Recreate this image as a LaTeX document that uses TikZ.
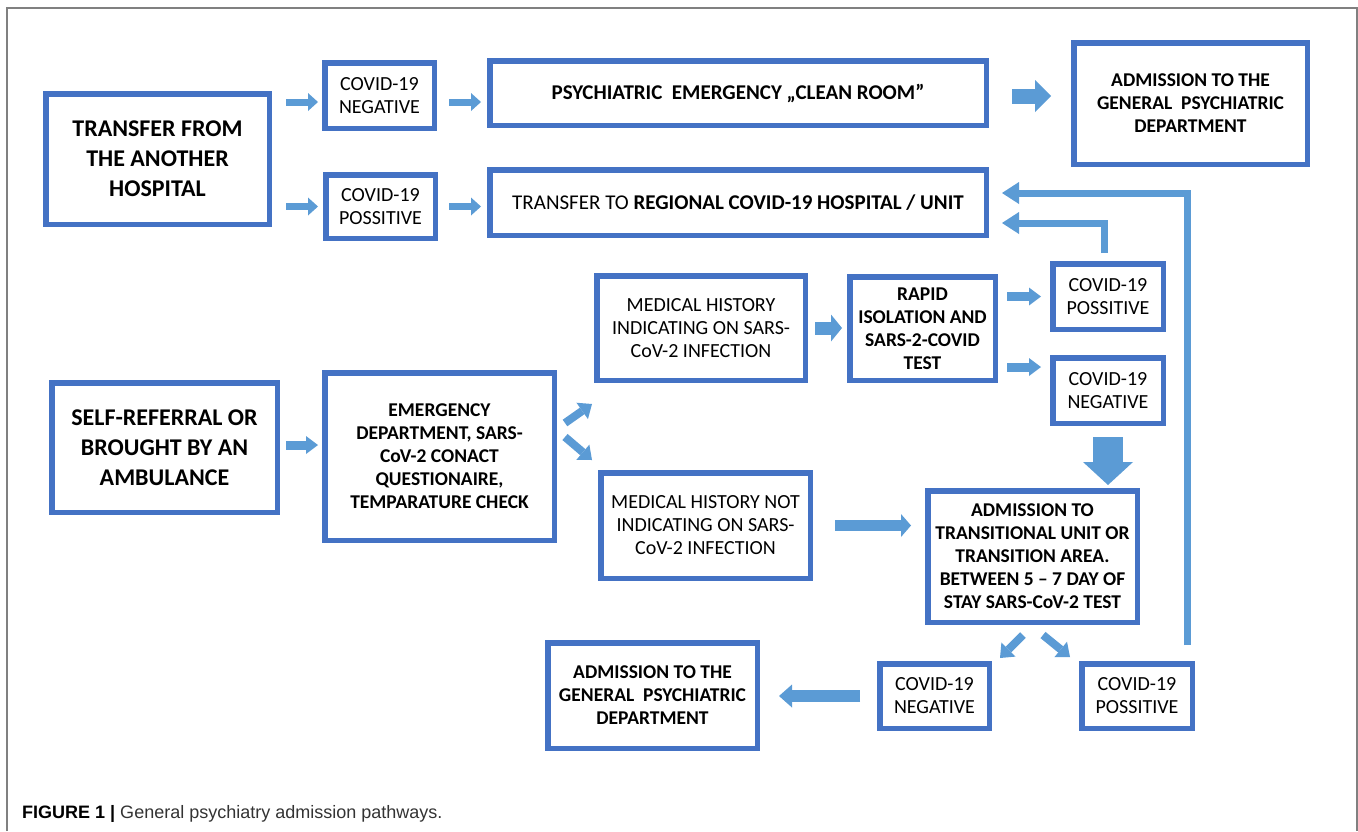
\documentclass[tikz,border=0pt]{standalone}
\usepackage{fontspec}
\setmainfont{Carlito}
\newfontfamily\capfont{Liberation Sans}
\usetikzlibrary{arrows.meta}
\definecolor{boxblue}{HTML}{4472C4}
\definecolor{arrowblue}{HTML}{5B9BD5}
\definecolor{framegray}{HTML}{808080}
\definecolor{captext}{HTML}{333333}

\begin{document}
\begin{tikzpicture}[x=1pt,y=-1pt,
  box/.style={draw=boxblue, line width=5.5pt, fill=white, align=center, inner sep=2pt, font=\fontsize{20}{23}\selectfont},
  bold box/.style={box, font=\fontsize{19.5}{23}\selectfont\bfseries},
  big box/.style={box, font=\fontsize{24}{30}\selectfont\bfseries},
  flow/.style n args={3}{draw, color=arrowblue, line width=#1, -{Triangle[width=#2, length=#3, line width=0pt, fill=arrowblue]}}]

  \useasboundingbox (0,0) rectangle (1358,831);
  \draw[framegray, line width=1.2pt] (7,831) -- (7,8) -- (1357,8) -- (1357,831);

  % transfer branch
  \node[big box, minimum width=223.5pt, minimum height=130.5pt] (transfer) at (157.5,159) {TRANSFER FROM\\THE ANOTHER\\HOSPITAL};
  \node[box, minimum width=109.5pt, minimum height=65.5pt] (negtop) at (379.5,95.5) {COVID-19\\NEGATIVE};
  \node[box, minimum width=109.5pt, minimum height=63.5pt] (postop) at (380.5,206.5) {COVID-19\\POSSITIVE};
  \node[box, minimum width=496.5pt, minimum height=64.5pt, font=\fontsize{21}{24}\selectfont\bfseries] (cleanroom) at (738,93) {PSYCHIATRIC\ \ EMERGENCY\ „CLEAN ROOM”};
  \node[box, minimum width=496.5pt, minimum height=65.5pt, font=\fontsize{21}{24}\selectfont] (regional) at (738,202.5) {TRANSFER TO \textbf{REGIONAL COVID-19 HOSPITAL / UNIT}};
  \node[bold box, minimum width=233.5pt, minimum height=121.5pt] (admittop) at (1190.5,103.5) {ADMISSION TO THE\\GENERAL\ \ PSYCHIATRIC\\DEPARTMENT};

  % self-referral branch
  \node[big box, minimum width=225.5pt, minimum height=129.5pt] (selfref) at (164.5,447.5) {SELF-REFERRAL OR\\BROUGHT BY AN\\AMBULANCE};
  \node[bold box, minimum width=229.5pt, minimum height=167.5pt] (emergency) at (439.5,456.5) {EMERGENCY\\DEPARTMENT, SARS-\\CoV-2 CONACT\\QUESTIONAIRE,\\TEMPARATURE CHECK};
  \node[box, minimum width=208.5pt, minimum height=104.5pt] (histyes) at (701,328) {MEDICAL HISTORY\\INDICATING ON SARS-\\CoV-2 INFECTION};
  \node[bold box, minimum width=145.5pt, minimum height=103.5pt] (rapid) at (922.5,328.5) {RAPID\\ISOLATION AND\\SARS-2-COVID\\TEST};
  \node[box, minimum width=110.5pt, minimum height=65.5pt] (posmid) at (1108,296.5) {COVID-19\\POSSITIVE};
  \node[box, minimum width=110.5pt, minimum height=65.5pt] (negmid) at (1108,390.5) {COVID-19\\NEGATIVE};
  \node[box, minimum width=209.5pt, minimum height=105.5pt] (histno) at (705.5,525.5) {MEDICAL HISTORY NOT\\INDICATING ON SARS-\\CoV-2 INFECTION};
  \node[bold box, minimum width=209.5pt, minimum height=131.5pt] (transition) at (1032.5,556.5) {ADMISSION TO\\TRANSITIONAL UNIT OR\\TRANSITION AREA.\\BETWEEN 5 – 7 DAY OF\\STAY SARS-CoV-2 TEST};
  \node[box, minimum width=109.5pt, minimum height=64.5pt] (negbot) at (934.5,696) {COVID-19\\NEGATIVE};
  \node[box, minimum width=110.5pt, minimum height=64.5pt] (posbot) at (1137,696) {COVID-19\\POSSITIVE};
  \node[bold box, minimum width=209.5pt, minimum height=105.5pt] (admitbot) at (652.5,695.5) {ADMISSION TO THE\\GENERAL\ \ PSYCHIATRIC\\DEPARTMENT};

  \node[anchor=base west, inner sep=0pt, text=captext, font=\capfont\fontsize{18}{20}\selectfont] (caption) at (22,818) {\textbf{\color{black}FIGURE 1 |} General psychiatry admission pathways.};

  \coordinate (negtopin) at ([yshift=-6.5pt]negtop.west);
  \coordinate (negtopout) at ([yshift=-6.5pt]negtop.east);
  \coordinate (cleanout) at ([yshift=-3pt]cleanroom.east);
  \coordinate (selfout) at ([yshift=2.5pt]selfref.east);
  \coordinate (negmidin) at ([yshift=23.5pt]negmid.west);

  \path[every edge/.style={flow={7pt}{18pt}{10pt}}]
       (negtopin -| transfer.east) edge[shorten <=14pt, shorten >=4pt] (negtopin)
       (postop.west -| transfer.east) edge[shorten <=14pt, shorten >=5pt] (postop.west)
       (negtopout) edge[shorten <=12pt, shorten >=6pt] (negtopout -| cleanroom.west)
       (postop.east) edge[shorten <=11pt, shorten >=6pt] (postop.east -| regional.west);
  \path[every edge/.style={flow={15pt}{32pt}{16pt}}]
       (cleanout) edge[shorten <=23pt, shorten >=20pt] (cleanout -| admittop.west);

  \draw[flow={7pt}{22pt}{17pt}, line join=miter, shorten >=13pt]
       ([xshift=-8pt,yshift=16pt]posbot.north east) |- ([yshift=9.5pt]regional.east);
  \draw[flow={7pt}{22pt}{17pt}, line join=miter, shorten <=8pt, shorten >=13pt]
       ([xshift=-3.5pt]posmid.north) |- ([yshift=-20.5pt]regional.east);

  \path[every edge/.style={flow={9pt}{18pt}{12pt}}]
       (selfout) edge[shorten <=6pt, shorten >=4pt] (selfout -| emergency.west)
       (posmid.west -| rapid.east) edge[shorten <=9pt, shorten >=9pt] (posmid.west)
       (negmidin -| rapid.east) edge[shorten <=9pt, shorten >=9pt] (negmidin);
  \path[every edge/.style={flow={8pt}{20pt}{12pt}}]
       ([xshift=8pt,yshift=33.5pt]emergency.east) edge ([xshift=-2pt,yshift=-21pt]histyes.south west)
       ([xshift=8pt,yshift=19.5pt]emergency.east) edge ([xshift=-6pt,yshift=10pt]histno.north west)
       ([xshift=-9.5pt,yshift=-10pt]transition.south) edge ([xshift=8pt,yshift=3pt]negbot.north east)
       ([xshift=10.5pt,yshift=-10pt]transition.south) edge ([xshift=-9pt,yshift=4pt]posbot.north west);
  \path[every edge/.style={flow={13pt}{27pt}{11pt}}]
       (histyes.east) edge[shorten <=7pt, shorten >=5pt] (histyes.east -| rapid.west);
  \path[every edge/.style={flow={30pt}{50pt}{23pt}}]
       (negmid.south) edge[shorten <=11pt, shorten >=3pt] (negmid.south |- transition.north);
  \path[every edge/.style={flow={11pt}{23pt}{10pt}}]
       (histno.east) edge[shorten <=22pt, shorten >=14pt] (histno.east -| transition.west);
  \path[every edge/.style={flow={12pt}{23pt}{13pt}}]
       (negbot.west) edge[shorten <=17pt, shorten >=19pt] (negbot.west -| admitbot.east);
\end{tikzpicture}
\end{document}
